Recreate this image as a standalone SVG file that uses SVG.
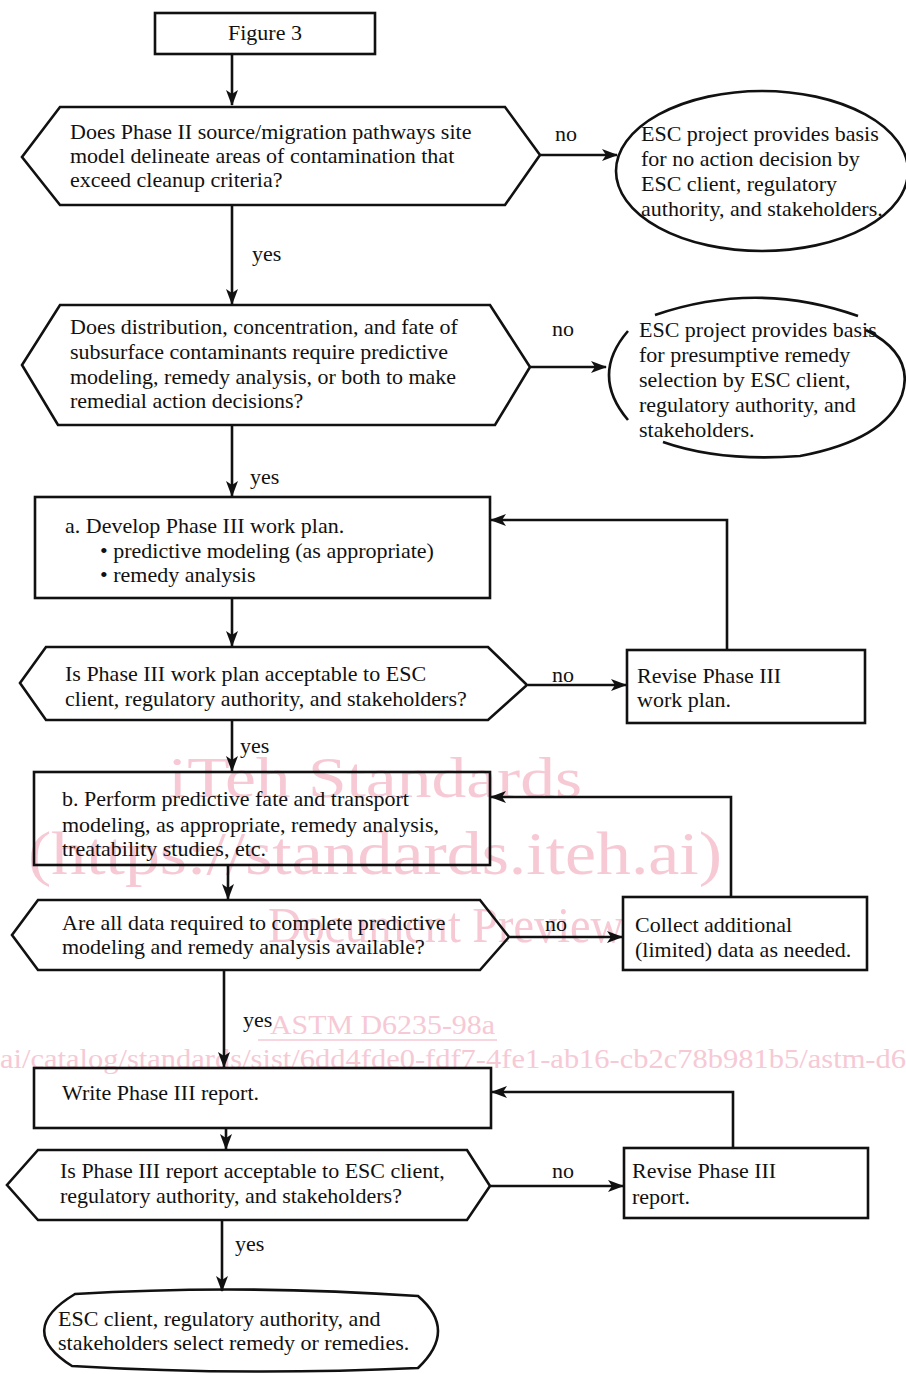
<svg xmlns="http://www.w3.org/2000/svg" width="906" height="1374" viewBox="0 0 906 1374">
<style>
.s{fill:none;stroke:#111;stroke-width:2.6;stroke-linejoin:miter}
.e{fill:none;stroke:#111;stroke-width:2.6}
.t{font-family:"Liberation Serif","Times New Roman",serif;font-size:22px;fill:#111}
.c{fill:none;stroke:#111;stroke-width:2.6}
.w{font-family:"Liberation Serif","Times New Roman",serif;fill:#f6c9d5}
</style>
<defs>
<marker id="ah" markerWidth="16" markerHeight="12" refX="15" refY="6" orient="auto" markerUnits="userSpaceOnUse">
<path d="M0,0 L16,6 L0,12 L4,6 z" fill="#111"/>
</marker>
</defs>
<rect width="906" height="1374" fill="#fff"/>

<g id="watermark">
<text class="w" x="168" y="797" font-size="58" textLength="414" lengthAdjust="spacingAndGlyphs">iTeh Standards</text>
<text class="w" x="28" y="874" font-size="62" textLength="694" lengthAdjust="spacingAndGlyphs">(https://standards.iteh.ai)</text>
<text class="w" x="268" y="942" font-size="50" textLength="356" lengthAdjust="spacingAndGlyphs">Document Preview</text>
<text class="w" x="270" y="1034" font-size="27" textLength="225" lengthAdjust="spacingAndGlyphs">ASTM D6235-98a</text>
<line x1="258" y1="1040" x2="497" y2="1040" stroke="#f6c9d5" stroke-width="1.5"/>
<text class="w" x="0" y="1068" font-size="28" textLength="906" lengthAdjust="spacingAndGlyphs">ai/catalog/standards/sist/6dd4fde0-fdf7-4fe1-ab16-cb2c78b981b5/astm-d6</text>
</g>

<g id="connectors">
<path class="c" d="M232,55 V105" marker-end="url(#ah)"/>
<path class="c" d="M232,205 V304" marker-end="url(#ah)"/>
<path class="c" d="M232,425 V496" marker-end="url(#ah)"/>
<path class="c" d="M232,598 V646" marker-end="url(#ah)"/>
<path class="c" d="M232,720 V771" marker-end="url(#ah)"/>
<path class="c" d="M228,865 V899" marker-end="url(#ah)"/>
<path class="c" d="M224,970 V1067" marker-end="url(#ah)"/>
<path class="c" d="M226,1128 V1149" marker-end="url(#ah)"/>
<path class="c" d="M222,1220 V1291" marker-end="url(#ah)"/>
<path class="c" d="M540,155 H617" marker-end="url(#ah)"/>
<path class="c" d="M530,367 H606" marker-end="url(#ah)"/>
<path class="c" d="M528,685 H626" marker-end="url(#ah)"/>
<path class="c" d="M510,937 H622" marker-end="url(#ah)"/>
<path class="c" d="M490,1186 H623" marker-end="url(#ah)"/>
<path class="c" d="M727,650 V520 H491" marker-end="url(#ah)"/>
<path class="c" d="M731,897 V797 H491" marker-end="url(#ah)"/>
<path class="c" d="M733,1148 V1092 H492" marker-end="url(#ah)"/>
<text class="t" x="555" y="141">no</text>
<text class="t" x="252" y="261">yes</text>
<text class="t" x="552" y="336">no</text>
<text class="t" x="250" y="484">yes</text>
<text class="t" x="552" y="682">no</text>
<text class="t" x="240" y="753">yes</text>
<text class="t" x="545" y="931">no</text>
<text class="t" x="243" y="1027">yes</text>
<text class="t" x="552" y="1178">no</text>
<text class="t" x="235" y="1251">yes</text>
</g>

<g id="fig">
<rect class="s" x="155" y="13" width="220" height="41"/>
<text class="t" x="265" y="40" text-anchor="middle">Figure 3</text>
</g>

<g id="d1">
<polygon class="s" points="60,107 505,107 540,155 505,205 60,205 22,157"/>
<text class="t" x="70" y="139">Does Phase II source/migration pathways site</text>
<text class="t" x="70" y="163">model delineate areas of contamination that</text>
<text class="t" x="70" y="187">exceed cleanup criteria?</text>
</g>

<g id="e1">
<ellipse class="s" cx="762" cy="171" rx="146" ry="80"/>
<text class="t" x="641" y="141">ESC project provides basis</text>
<text class="t" x="641" y="166">for no action decision by</text>
<text class="t" x="641" y="191">ESC client, regulatory</text>
<text class="t" x="641" y="216">authority, and stakeholders.</text>
</g>

<g id="d2">
<polygon class="s" points="60,305 490,305 530,367 495,425 58,425 22,365"/>
<text class="t" x="70" y="334">Does distribution, concentration, and fate of</text>
<text class="t" x="70" y="359">subsurface contaminants require predictive</text>
<text class="t" x="70" y="384">modeling, remedy analysis, or both to make</text>
<text class="t" x="70" y="408">remedial action decisions?</text>
</g>

<g id="e2">
<path class="e" d="M655,315 Q757,280 858,316"/>
<path class="e" d="M628,331 Q590,375 628,420"/>
<path class="e" d="M866,330 Q915,355 902,395 Q885,440 800,456 Q720,462 663,442"/>
<text class="t" x="639" y="337">ESC project provides basis</text>
<text class="t" x="639" y="362">for presumptive remedy</text>
<text class="t" x="639" y="387">selection by ESC client,</text>
<text class="t" x="639" y="412">regulatory authority, and</text>
<text class="t" x="639" y="437">stakeholders.</text>
</g>

<g id="a">
<rect class="s" x="35" y="497" width="455" height="101"/>
<text class="t" x="65" y="533">a. Develop Phase III work plan.</text>
<text class="t" x="100" y="558">• predictive modeling (as appropriate)</text>
<text class="t" x="100" y="582">• remedy analysis</text>
</g>

<g id="d3">
<polygon class="s" points="46,647 488,647 527,685 488,720 46,720 20,683"/>
<text class="t" x="65" y="681">Is Phase III work plan acceptable to ESC</text>
<text class="t" x="65" y="706">client, regulatory authority, and stakeholders?</text>
</g>

<g id="r1">
<rect class="s" x="627" y="650" width="238" height="73"/>
<text class="t" x="637" y="683">Revise Phase III</text>
<text class="t" x="637" y="707">work plan.</text>
</g>

<g id="b">
<rect class="s" x="34" y="772" width="456" height="93"/>
<text class="t" x="62" y="806">b. Perform predictive fate and transport</text>
<text class="t" x="62" y="832">modeling, as appropriate, remedy analysis,</text>
<text class="t" x="62" y="856">treatability studies, etc.</text>
</g>

<g id="d4">
<polygon class="s" points="38,900 480,900 509,937 480,970 38,970 12,935"/>
<text class="t" x="62" y="930">Are all data required to complete predictive</text>
<text class="t" x="62" y="954">modeling and remedy analysis available?</text>
</g>

<g id="collect">
<rect class="s" x="623" y="897" width="244" height="73"/>
<text class="t" x="635" y="932">Collect additional</text>
<text class="t" x="635" y="957">(limited) data as needed.</text>
</g>

<g id="write">
<rect class="s" x="34" y="1068" width="457" height="60"/>
<text class="t" x="62" y="1100">Write Phase III report.</text>
</g>

<g id="d5">
<polygon class="s" points="38,1150 467,1150 490,1186 467,1220 38,1220 7,1185"/>
<text class="t" x="60" y="1178">Is Phase III report acceptable to ESC client,</text>
<text class="t" x="60" y="1203">regulatory authority, and stakeholders?</text>
</g>

<g id="r2">
<rect class="s" x="624" y="1148" width="244" height="70"/>
<text class="t" x="632" y="1178">Revise Phase III</text>
<text class="t" x="632" y="1204">report.</text>
</g>

<g id="end">
<path class="s" d="M75,1294 Q240,1284 418,1296 Q458,1330 418,1368 Q240,1376 72,1366 Q15,1330 75,1294 Z"/>
<text class="t" x="58" y="1326">ESC client, regulatory authority, and</text>
<text class="t" x="58" y="1350">stakeholders select remedy or remedies.</text>
</g>
</svg>
